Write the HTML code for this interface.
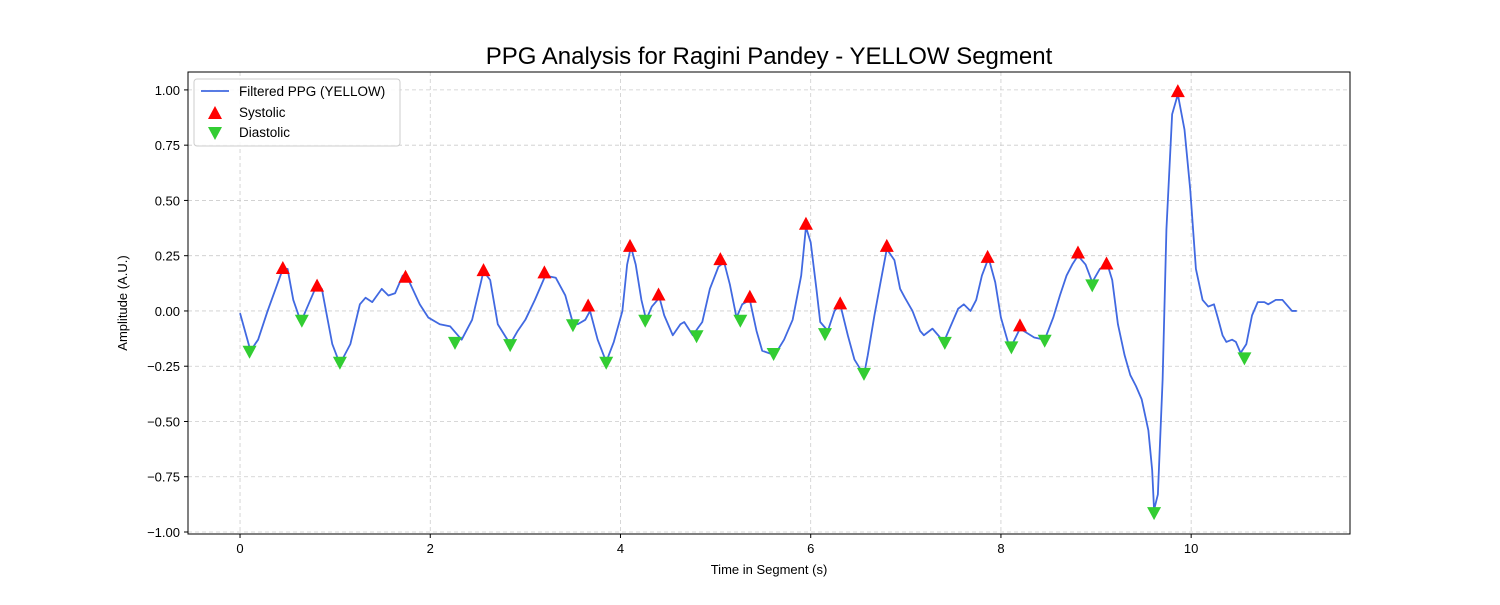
<!DOCTYPE html>
<html><head><meta charset="utf-8"><style>
body{margin:0;background:#fff;}
svg text{font-family:"Liberation Sans","DejaVu Sans",sans-serif;}
</style></head><body>
<svg id="chart" width="1500" height="600" xmlns="http://www.w3.org/2000/svg">
<rect width="1500" height="600" fill="#fff"/>
<g id="grid"></g><g id="axes"></g><g id="series"></g><g id="marks"></g>
<text x="769" y="64" font-size="24" text-anchor="middle">PPG Analysis for Ragini Pandey - YELLOW Segment</text>
<text x="769" y="574" font-size="13" text-anchor="middle">Time in Segment (s)</text>
<text x="127" y="303" font-size="13" text-anchor="middle" transform="rotate(-90 127 303)">Amplitude (A.U.)</text>
<g>
<rect x="194" y="79" width="206" height="67" rx="3" fill="#fff" fill-opacity="0.85" stroke="#ccc"/>
<g><line x1="201" y1="91" x2="229" y2="91" stroke="#4169e1" stroke-width="1.8"/><text x="239" y="96" font-size="13.5">Filtered PPG (YELLOW)</text></g>
<g><polygon points="215,106 208,119 222,119" fill="red"/><text x="239" y="117" font-size="13.5">Systolic</text></g>
<g><polygon points="208,127 222,127 215,140 " fill="#32cd32"/><text x="239" y="137" font-size="13.5">Diastolic</text></g>
</g>
</svg>
<script>
const times=[0.00,0.11,0.19,0.29,0.45,0.50,0.56,0.64,0.72,0.81,0.86,0.97,1.05,1.16,1.26,1.32,1.39,1.49,1.56,1.63,1.71,1.76,1.89,1.98,2.10,2.21,2.33,2.44,2.56,2.63,2.71,2.84,2.92,3.00,3.10,3.21,3.32,3.42,3.49,3.55,3.63,3.68,3.76,3.85,3.93,4.02,4.07,4.11,4.16,4.22,4.27,4.33,4.41,4.46,4.55,4.63,4.67,4.76,4.86,4.94,5.03,5.09,5.15,5.22,5.28,5.36,5.43,5.49,5.62,5.72,5.81,5.90,5.95,6.00,6.06,6.10,6.18,6.25,6.31,6.39,6.46,6.56,6.60,6.67,6.73,6.80,6.88,6.94,6.99,7.07,7.15,7.19,7.28,7.34,7.40,7.49,7.55,7.61,7.68,7.74,7.80,7.87,7.94,8.00,8.08,8.12,8.20,8.35,8.46,8.55,8.62,8.69,8.75,8.81,8.89,8.96,9.04,9.12,9.17,9.23,9.30,9.36,9.42,9.48,9.55,9.59,9.61,9.65,9.70,9.74,9.80,9.86,9.93,9.99,10.05,10.12,10.18,10.24,10.28,10.33,10.37,10.43,10.47,10.52,10.58,10.64,10.70,10.77,10.81,10.89,10.96,11.06,11.11];
const amps=[-0.01,-0.18,-0.13,0.00,0.19,0.19,0.05,-0.05,0.03,0.12,0.10,-0.15,-0.24,-0.15,0.03,0.06,0.04,0.10,0.07,0.08,0.16,0.15,0.03,-0.03,-0.06,-0.07,-0.13,-0.04,0.18,0.14,-0.06,-0.15,-0.09,-0.04,0.05,0.16,0.15,0.07,-0.04,-0.06,-0.04,0.00,-0.13,-0.23,-0.14,0.00,0.21,0.29,0.21,0.05,-0.04,0.02,0.06,-0.02,-0.11,-0.06,-0.05,-0.11,-0.05,0.10,0.20,0.22,0.12,-0.03,0.03,0.05,-0.09,-0.18,-0.20,-0.13,-0.04,0.16,0.38,0.31,0.10,-0.05,-0.09,0.00,0.03,-0.11,-0.22,-0.29,-0.20,-0.02,0.12,0.28,0.23,0.10,0.06,0.00,-0.09,-0.11,-0.08,-0.11,-0.14,-0.05,0.01,0.03,0.00,0.05,0.16,0.24,0.13,-0.03,-0.15,-0.15,-0.08,-0.12,-0.13,-0.03,0.07,0.16,0.21,0.25,0.21,0.13,0.19,0.21,0.14,-0.06,-0.20,-0.29,-0.34,-0.40,-0.54,-0.72,-0.90,-0.83,-0.31,0.37,0.89,0.98,0.82,0.55,0.19,0.05,0.02,0.03,-0.03,-0.11,-0.14,-0.13,-0.14,-0.19,-0.15,-0.02,0.04,0.04,0.03,0.05,0.05,0.00,0.00];
const sysT=[0.45,0.81,1.74,2.56,3.20,3.66,4.10,4.40,5.05,5.36,5.95,6.31,6.80,7.86,8.20,8.81,9.11,9.86];
const sysV=[0.19,0.11,0.15,0.18,0.17,0.02,0.29,0.07,0.23,0.06,0.39,0.03,0.29,0.24,-0.07,0.26,0.21,0.99];
const diaT=[0.10,0.65,1.05,2.26,2.84,3.50,3.85,4.26,4.80,5.26,5.61,6.15,6.56,7.41,8.11,8.46,8.96,9.61,10.56];
const diaV=[-0.18,-0.04,-0.23,-0.14,-0.15,-0.06,-0.23,-0.04,-0.11,-0.04,-0.19,-0.10,-0.28,-0.14,-0.16,-0.13,0.12,-0.91,-0.21];
const xTicks=[0,2,4,6,8,10];
const yTicks=[1.00,0.75,0.50,0.25,0.00,-0.25,-0.50,-0.75,-1.00];

const L=188,R=1350,T=72,B=534,xmin=-0.547,xmax=11.67,ymin=-1.009,ymax=1.081;
const X=t=>L+(t-xmin)/(xmax-xmin)*(R-L);
const Y=v=>B-(v-ymin)/(ymax-ymin)*(B-T);
const NS="http://www.w3.org/2000/svg";
function mk(tag,attrs,parent){const e=document.createElementNS(NS,tag);for(const k in attrs)e.setAttribute(k,attrs[k]);parent.appendChild(e);return e;}
const grid=document.getElementById('grid'),axes=document.getElementById('axes'),series=document.getElementById('series'),marks=document.getElementById('marks');
xTicks.forEach(t=>{
 const g=mk('line',{x1:X(t),x2:X(t),y1:T,y2:B,stroke:'#ccc','stroke-dasharray':'4,3','stroke-width':0.8},grid);
 
 
 mk('line',{x1:X(t),x2:X(t),y1:B,y2:B+4,stroke:'#000'},axes);
 const tx=mk('text',{x:X(t),y:B+19,'font-size':13,'text-anchor':'middle'},axes);tx.textContent=t;
 
 
});
yTicks.forEach(v=>{
 const g=mk('line',{x1:L,x2:R,y1:Y(v),y2:Y(v),stroke:'#ccc','stroke-dasharray':'4,3','stroke-width':0.8},grid);
 
 
 mk('line',{x1:L-4,x2:L,y1:Y(v),y2:Y(v),stroke:'#000'},axes);
 const tx=mk('text',{x:L-8,y:Y(v)+5,'font-size':13,'text-anchor':'end'},axes);
 tx.textContent=v<0?'\u2212'+Math.abs(v).toFixed(2):v.toFixed(2);
 
 
});
const fr=mk('rect',{x:L,y:T,width:R-L,height:B-T,fill:'none',stroke:'#000','stroke-width':1},axes);


const pl=mk('polyline',{points:times.map((t,i)=>X(t)+','+Y(amps[i])).join(' '),fill:'none',stroke:'#4169e1','stroke-width':1.8,'stroke-linejoin':'round'},series);


sysT.forEach((t,i)=>{const x=X(t),y=Y(sysV[i]);
 const p=mk('polygon',{points:`${x},${y-8} ${x-7},${y+5} ${x+7},${y+5}`,fill:'red'},marks);
 
 });
diaT.forEach((t,i)=>{const x=X(t),y=Y(diaV[i]);
 const p=mk('polygon',{points:`${x-7},${y-5} ${x+7},${y-5} ${x},${y+8}`,fill:'#32cd32'},marks);
 
 });
</script>
</body></html>
